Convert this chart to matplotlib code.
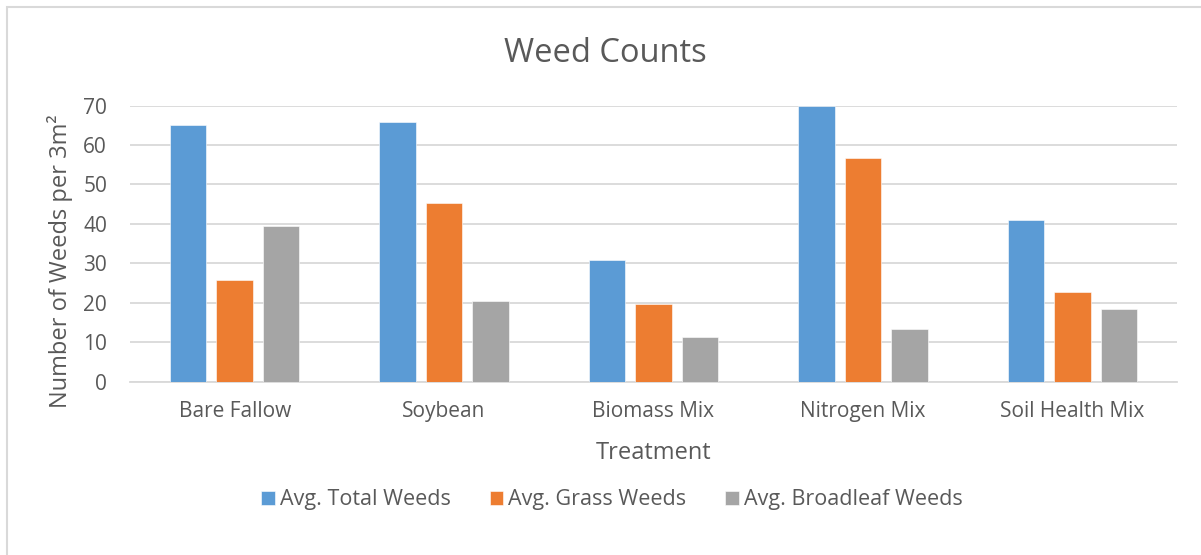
import matplotlib.pyplot as plt
import numpy as np
from matplotlib.patches import Rectangle

plt.rcParams['font.family'] = ['Open Sans', 'DejaVu Sans']

treatments = ["Bare Fallow", "Soybean", "Biomass Mix", "Nitrogen Mix", "Soil Health Mix"]
series_names = ["Avg. Total Weeds", "Avg. Grass Weeds", "Avg. Broadleaf Weeds"]
total_weeds = [65.0, 65.7, 30.9, 70.0, 41.0]
grass_weeds = [25.7, 45.3, 19.7, 56.7, 22.7]
broadleaf_weeds = [39.4, 20.4, 11.3, 13.4, 18.4]
y_ticks = [0, 10, 20, 30, 40, 50, 60, 70]

colors = ["#5B9BD5", "#ED7D31", "#A5A5A5"]
text_color = "#595959"
grid_color = "#D9D9D9"

W, H = 1201, 555
fig = plt.figure(figsize=(W / 100, H / 100), dpi=100)

# chart frame
fig.patches.append(Rectangle((6.5 / W, -0.1), 1.2, (H - 6.5) / H + 0.1,
                             transform=fig.transFigure, fill=False,
                             edgecolor=grid_color, linewidth=1.5))

left, right = 130, 1177
top, bottom = 105.5, 381.5
ax = fig.add_axes([left / W, 1 - bottom / H, (right - left) / W, (bottom - top) / H])

x = np.arange(len(treatments))
bar_w = 0.174
step = 0.222
for i, (vals, name) in enumerate(zip([total_weeds, grass_weeds, broadleaf_weeds], series_names)):
    ax.bar(x + (i - 1) * step, vals, width=bar_w, color=colors[i], label=name,
           zorder=3, edgecolor="white", linewidth=0.4)

ax.set_xlim(-0.5, len(treatments) - 0.5)
ax.set_ylim(0, 70)
ax.set_yticks(y_ticks)
ax.set_yticklabels([str(t) for t in y_ticks], fontsize=15, color=text_color)
ax.set_xticks(x)
ax.set_xticklabels(treatments, fontsize=15, color=text_color)
ax.tick_params(axis='both', length=0)
ax.tick_params(axis='y', pad=16.5)
ax.tick_params(axis='x', pad=14)
ax.yaxis.grid(True, color=grid_color, linewidth=1.3, zorder=0)
ax.set_axisbelow(True)
for s in ["top", "right", "left"]:
    ax.spines[s].set_visible(False)
ax.spines["bottom"].set_color(grid_color)
ax.spines["bottom"].set_linewidth(1.3)

ax.set_ylabel("Number of Weeds per 3m²", fontsize=17, color=text_color)
ax.yaxis.set_label_coords(-57 / (right - left), (bottom - 261) / (bottom - top))
ax.set_xlabel("Treatment", fontsize=17, color=text_color, labelpad=14)

fig.text(605 / W, 1 - 53 / H, "Weed Counts", ha="center", va="center",
         fontsize=23.5, color=text_color)

leg = fig.legend(loc="center", bbox_to_anchor=(612 / W, 1 - 500 / H), ncol=3,
                 frameon=False, fontsize=15.5, handlelength=0.62, handleheight=0.62,
                 handletextpad=0.25, columnspacing=1.8, labelcolor=text_color)

fig.savefig("out.png", dpi=100)
